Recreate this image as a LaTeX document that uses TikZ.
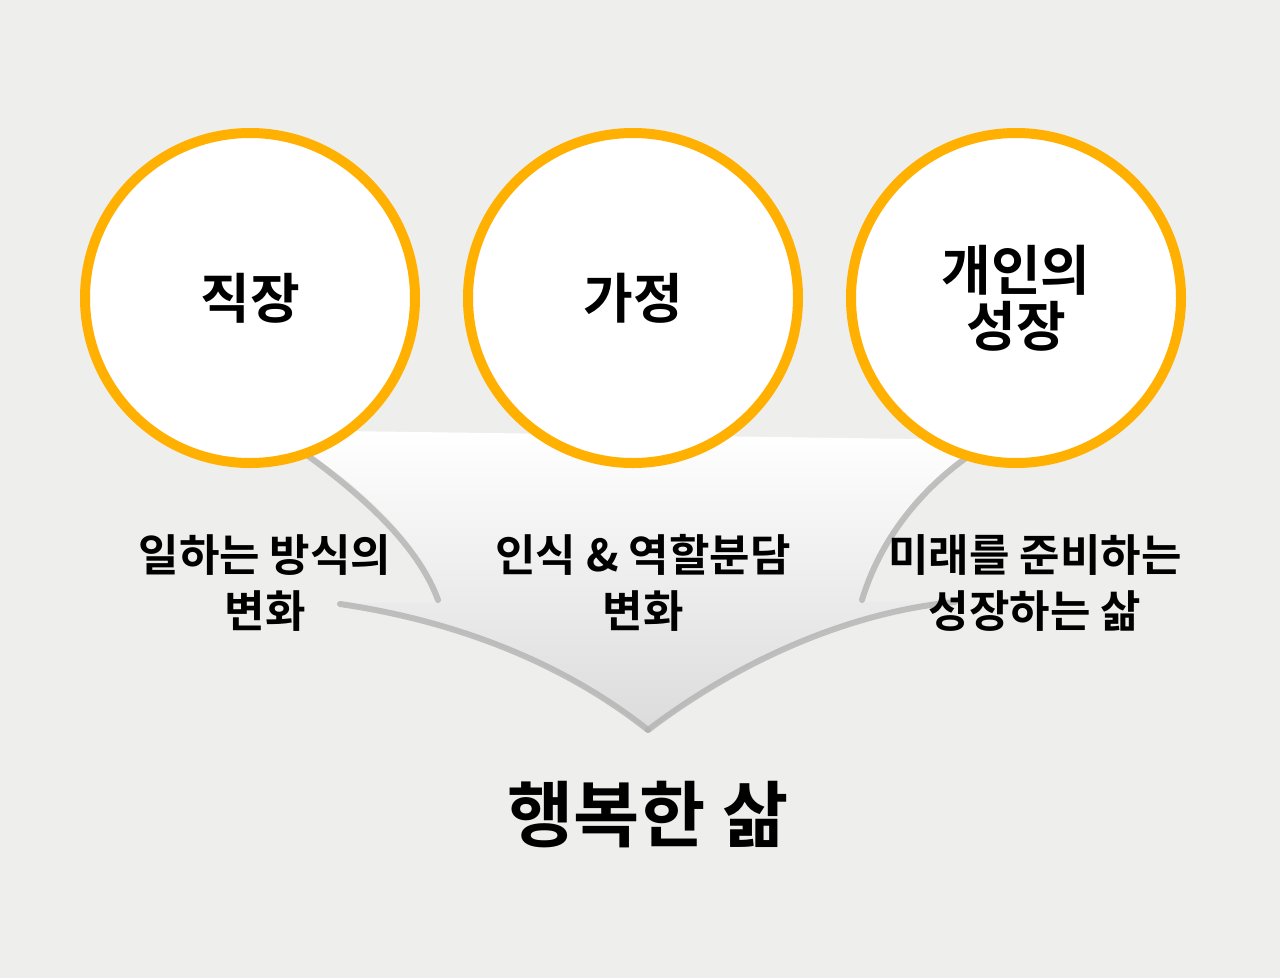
\documentclass[tikz,border=0pt]{standalone}
\usepackage{fontspec}
\setmainfont{Noto Sans CJK KR Bold}
\begin{document}
\begin{tikzpicture}[x=1pt,y=-1pt,
  ring/.style={circle,draw=ringc,line width=10pt,fill=white,minimum size=330pt,inner sep=0pt,font=\fontsize{54}{64}\selectfont,align=center},
  lab/.style={font=\fontsize{44}{56}\selectfont,align=center,inner sep=0pt},
  edge/.style={draw=black!30,line width=6pt,line cap=round,opacity=0.8}]
\definecolor{bg}{HTML}{EEEEEC}
\definecolor{ringc}{HTML}{FFB000}
\fill[bg] (0,0) rectangle (1280,978);
\useasboundingbox (0,0) rectangle (1280,978);
\shade[top color=white,bottom color=black!14]
  (270,430) .. controls (360,480) and (420,540) .. (440,602) -- (335,603)
  .. controls (450,620) and (560,660) .. (648,732)
  .. controls (740,660) and (850,610) .. (960,600) -- (860,602)
  .. controls (880,530) and (930,480) .. (990,440) -- cycle;
\draw[edge] (300,450) .. controls (370,500) and (420,550) .. (438,600);
\draw[edge] (340,604) .. controls (450,620) and (560,660) .. (648,730);
\draw[edge] (648,730) .. controls (740,660) and (850,612) .. (955,602);
\draw[edge] (862,600) .. controls (880,540) and (920,490) .. (970,455);
\node[ring] (c1) at (250,298) {직장};
\node[ring] (c2) at (633,298) {가정};
\node[ring] (c3) at (1016,298) {개인의\\[-8pt]성장};
\node[lab] (l1) at (265,583) {일하는 방식의\\변화};
\node[lab] (l2) at (643,583) {인식 \& 역할분담\\변화};
\node[lab] (l3) at (1035,583) {미래를 준비하는\\성장하는 삶};
\node[font=\fontsize{72}{80}\selectfont,inner sep=0pt] (t) at (648,815) {행복한 삶};
\end{tikzpicture}
\end{document}
